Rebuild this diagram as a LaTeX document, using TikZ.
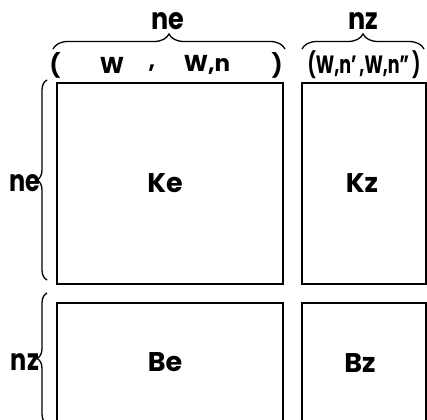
\documentclass[tikz,border=0pt]{standalone}
\usepackage{fontspec}
\setmainfont{Poppins}
\usetikzlibrary{decorations.pathreplacing}
\newcommand{\narrow}[2]{\scalebox{#1}[1]{#2}}
\tikzset{
  blk/.style={draw, line width=1.8pt},
  bigtxt/.style={font=\fontsize{27}{27}\selectfont\bfseries, inner sep=0pt},
  lbl/.style={font=\fontsize{30}{30}\selectfont\bfseries, inner sep=0pt},
  rowtxt/.style={font=\fontsize{23}{23}\selectfont\bfseries, inner sep=0pt},
  brc/.style={decorate, line width=1.3pt, decoration={brace, amplitude=#1}},
}
\begin{document}
\begin{tikzpicture}[x=1pt,y=1pt]
\useasboundingbox (0,0) rectangle (427,419);
% blocks
\draw[blk] (57,135) rectangle (283,336);
\draw[blk] (302,135) rectangle (426,336);
\draw[blk] (57,-5) -- (57,116) -- (283,116) -- (283,-5);
\draw[blk] (302,-5) -- (302,116) -- (426,116) -- (426,-5);
% block labels
\node[bigtxt] (ke) at (165,236) {Ke};
\node[bigtxt] (kz) at (362,236) {Kz};
\node[bigtxt] (be) at (165,57) {Be};
\node[bigtxt] (bz) at (360,56) {Bz};
% top braces
\draw[brc=15] (53,370) -- (285,370);
\draw[brc=15] (302,370) -- (424,370);
\node[lbl] (tne) at (168,398) {\narrow{0.85}{ne}};
\node[lbl] (tnz) at (363,398) {\narrow{0.85}{nz}};
% column row
\node[rowtxt] (lp) at (55,354) {(};
\node[rowtxt] (w1) at (112,354) {W};
\node[rowtxt] (cm) at (152,351) {,};
\node[rowtxt] (w2) at (207,354) {W,n};
\node[rowtxt] (rp) at (277,354) {)};
\node[font=\fontsize{25}{25}\selectfont\bfseries, inner sep=0pt] (wz) at (364,354) {\narrow{0.7}{(W,n’\,,W,n”\,)}};
% left braces
\draw[brc=10] (47,139) -- (47,339);
\draw[brc=10] (47,-5) -- (47,126);
\node[lbl] (lne) at (25,236) {\narrow{0.8}{ne}};
\node[lbl] (lnz) at (25,57) {\narrow{0.8}{nz}};
\end{tikzpicture}
\end{document}
